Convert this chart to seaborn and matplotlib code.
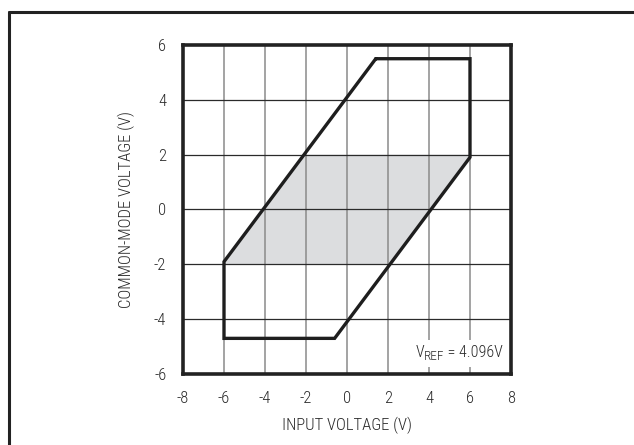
import matplotlib
matplotlib.use("Agg")
import matplotlib.pyplot as plt
import seaborn as sns
import pandas as pd
from matplotlib.lines import Line2D
from matplotlib.transforms import offset_copy
from matplotlib.patches import Rectangle

# Data
outer_x = [1.404, 6.0, 6.0, -0.604, -6.0, -6.0, 1.404]
outer_y = [5.5, 5.5, 1.904, -4.7, -4.7, -1.904, 5.5]
shade_x = [-6.0, -6.0, -2.096, 6.0, 6.0, 2.096]
shade_y = [-2.0, -1.904, 2.0, 2.0, 1.904, -2.0]
x_ticks = [-8, -6, -4, -2, 0, 2, 4, 6, 8]
y_ticks = [-6, -4, -2, 0, 2, 4, 6]
vref_parts = ["V", "REF", " = 4.096V"]

sns.set_theme(style="white")
FONT = "Roboto Condensed"
plt.rcParams["font.family"] = [FONT, "DejaVu Sans"]
plt.rcParams["font.weight"] = "light"

TXT = "#2a2a2a"
fig = plt.figure(figsize=(6.34, 4.45), dpi=100)
W, H = 634, 445
ax = fig.add_axes([183 / W, 1 - 374 / H, (511 - 183) / W, (374 - 45) / H])

ax.fill(shade_x, shade_y, color="#dcdddf", lw=0, zorder=1)
for xv in x_ticks[1:-1]:
    ax.axvline(xv, color="#8a8a8a", lw=1.1, zorder=2)
for yv in y_ticks[1:-1]:
    ax.axhline(yv, color="#2a2a2a", lw=0.9, zorder=2)

df = pd.DataFrame({"x": outer_x, "y": outer_y})
sns.lineplot(data=df, x="x", y="y", sort=False, estimator=None, ax=ax,
             color="#1e1e1e", lw=2.4, zorder=3)
ax.lines[-1].set_solid_joinstyle("miter")

ax.set_xlim(-8, 8)
ax.set_ylim(-6, 6)
ax.set_xticks(x_ticks)
ax.set_yticks(y_ticks)
ax.set_xticklabels([str(t) for t in x_ticks], fontweight="light")
ax.set_yticklabels([str(t) for t in y_ticks], fontweight="light")
ax.tick_params(axis="both", length=0, labelsize=12, colors=TXT, pad=12)
for s in ax.spines.values():
    s.set_visible(True)
    s.set_linewidth(2.6)
    s.set_color("#222222")

ax.set_xlabel("INPUT VOLTAGE (V)", fontsize=12, color=TXT, labelpad=8, fontweight="light")
ax.set_ylabel("COMMON-MODE VOLTAGE (V)", fontsize=12, color=TXT, labelpad=14, fontweight="light")

# V_REF label built from parts (main, subscript, rest), right edge at x=7.61
renderer = fig.canvas.get_renderer()
x_right, y0 = 7.61, -5.38
sizes = [11.5, 9.5, 11.5]
drops = [0, -3.0, 0]
texts = []
for part, fs, dy in zip(vref_parts, sizes, drops):
    t = ax.text(0, 0, part, ha="left", va="baseline", fontsize=fs,
                color=TXT, zorder=5, fontweight="light")
    texts.append(t)
widths = [t.get_window_extent(renderer).width for t in texts]
total = sum(widths)
dx = -total
for t, w, dy in zip(texts, widths, drops):
    t.set_position((x_right, y0))
    t.set_transform(offset_copy(ax.transData, fig=fig, x=dx, y=dy, units="dots"))
    dx += w
# white box behind label (gridlines are interrupted there)
px_per_x = (511 - 183) / 16.0
px_per_y = (374 - 45) / 12.0
bx0 = x_right - (total + 6) / px_per_x
ax.add_patch(Rectangle((bx0, -5.75), x_right + 0.2 - bx0, 1.0,
                       facecolor="white", edgecolor="none", zorder=4))

# outer frame
fig.add_artist(Line2D([9 / W, 9 / W], [0, 1 - 11.5 / H], transform=fig.transFigure,
                      color="#222222", lw=2.2))
fig.add_artist(Line2D([9 / W, 1], [1 - 11.5 / H, 1 - 11.5 / H], transform=fig.transFigure,
                      color="#222222", lw=2.2))

fig.savefig("out.png", dpi=100)
